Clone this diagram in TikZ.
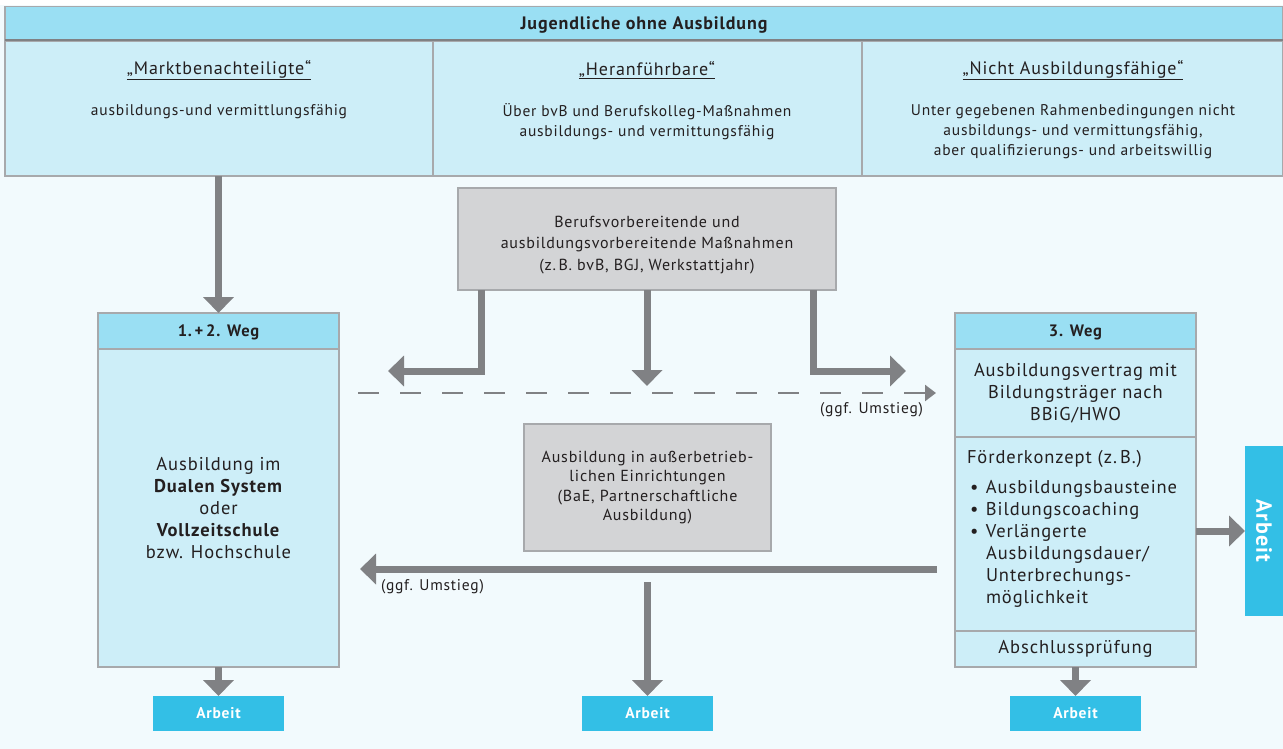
\documentclass[tikz,border=0pt]{standalone}
\usepackage{fontspec}
\setmainfont[LetterSpace=5]{PT Sans}
\usetikzlibrary{arrows.meta,positioning}

\definecolor{hellblau}{HTML}{CDEEF8}
\definecolor{kopfblau}{HTML}{9ADFF3}
\definecolor{grund}{HTML}{F2FAFD}
\definecolor{arbeitblau}{HTML}{33BFE6}
\definecolor{kastengrau}{HTML}{D3D4D6}
\definecolor{randgrau}{HTML}{A7A9AC}
\definecolor{pfeilgrau}{HTML}{808184}
\definecolor{schrift}{HTML}{231F20}

\begin{document}
\begin{tikzpicture}[x=1pt,y=-1pt,line join=miter,
  every node/.style={inner sep=0pt,outer sep=0pt,text=schrift},
  feld/.style={draw=randgrau,line width=1.2pt,fill=hellblau},
  kopf/.style={draw=randgrau,line width=1.2pt,fill=kopfblau,text depth=0pt,font=\fontsize{16.5}{20}\selectfont\bfseries},
  grau/.style={draw=randgrau,line width=1.2pt,fill=kastengrau},
  arbeit/.style={fill=arbeitblau,text=white,font=\fontsize{15.5}{16}\selectfont\bfseries},
  pfeil/.style={draw=pfeilgrau,line width=7pt,-{Triangle[width=30pt,length=16pt]}},
  titel/.style={font=\fontsize{18}{20}\selectfont},
  klein/.style={font=\fontsize{15.5}{20}\selectfont,align=center},
  gross/.style={font=\fontsize{18.5}{22}\selectfont,align=center}]
\useasboundingbox (0,0) rectangle (1283,749);
\fill[white] (0,0) rectangle (1283,749);
\fill[grund] (0,5) rectangle (1283,749);

% Kopfzeile und drei Gruppen
\node[kopf,font=\fontsize{18}{20}\selectfont\bfseries,minimum width=1278pt,minimum height=34pt] (jugend) at (644,23.5) {Jugendliche ohne Ausbildung};
\node[feld,minimum width=428pt,minimum height=135pt] (markt) at (219,108.5) {};
\node[feld,minimum width=429pt,minimum height=135pt] (heran) at (647.5,108.5) {};
\node[feld,minimum width=421pt,minimum height=135pt] (nicht) at (1072.5,108.5) {};
\draw[pfeilgrau,line width=2pt] (jugend.south west) -- (jugend.south east);
\node[titel] (marktT) at (219,70) {\underline{„Marktbenachteiligte“}};
\node[titel] (heranT) at (647,70) {\underline{„Heranführbare“}};
\node[titel] (nichtT) at (1073,70) {\underline{„Nicht Ausbildungsfähige“}};
\node[klein] (marktB) at (219,112) {ausbildungs-und vermittlungsfähig};
\node[klein] (heranB) at (647,122) {Über bvB und Berufskolleg-Maßnahmen\\ausbildungs- und vermittungsfähig};
\node[klein] (nichtB) at (1073,132) {Unter gegebenen Rahmenbedingungen nicht\\ausbildungs- und vermittungsfähig,\\aber qualifizierungs- und arbeitswillig};

% Massnahmen
\node[grau,minimum width=378pt,minimum height=102pt] (bvb) at (647,239) {};
\node[klein,font=\fontsize{16}{21.5}\selectfont] (bvbt) at (647,245)
  {Berufsvorbereitende und\\ausbildungsvorbereitende Maßnahmen\\(z.\,B. bvB, BGJ, Werkstattjahr)};
\node[grau,klein,font=\fontsize{16}{19.5}\selectfont,minimum width=247pt,minimum height=127pt] (bae) at (647.5,487.5)
  {Ausbildung in außerbetrieb-\\lichen Einrichtungen\\(BaE, Partnerschaftliche\\Ausbildung)};

% 1. + 2. Weg
\node[kopf,minimum width=241pt,minimum height=36pt] (weg12k) at (218.5,331) {1.\,+\,2. Weg};
\node[feld,gross,minimum width=241pt,minimum height=318pt,below=0pt of weg12k] (weg12b)
  {Ausbildung im\\\textbf{Dualen System}\\oder\\\textbf{Vollzeitschule}\\bzw. Hochschule};

% 3. Weg
\node[kopf,minimum width=241pt,minimum height=36pt] (weg3k) at (1075.5,331) {3. Weg};
\node[feld,gross,minimum width=241pt,minimum height=88pt,below=0pt of weg3k] (vertrag)
  {Ausbildungsvertrag mit\\Bildungsträger nach\\BBiG/HWO};
\node[feld,minimum width=241pt,minimum height=194pt,below=0pt of vertrag] (foerder) {};
\node[gross,align=left,anchor=north west] (foerdert) at ([xshift=12pt,yshift=-13pt]foerder.north west)
  {Förderkonzept (z.\,B.)\\[8pt]
   \makebox[19pt][l]{\hspace*{3pt}\textbullet}Ausbildungsbausteine\\
   \makebox[19pt][l]{\hspace*{3pt}\textbullet}Bildungscoaching\\
   \makebox[19pt][l]{\hspace*{3pt}\textbullet}Verlängerte\\
   \hspace*{19pt}Ausbildungsdauer/\\
   \hspace*{19pt}Unterbrechungs-\\
   \hspace*{19pt}möglichkeit};
\node[feld,font=\fontsize{18.5}{22}\selectfont,minimum width=241pt,minimum height=36pt,below=0pt of foerder] (abschluss) {Abschlussprüfung};

% Arbeit
\node[arbeit,minimum width=131pt,minimum height=35pt] (arbeit1) at (218.5,713.5) {Arbeit};
\node[arbeit,minimum width=131pt,minimum height=35pt] (arbeit2) at (647.5,713.5) {Arbeit};
\node[arbeit,minimum width=131pt,minimum height=35pt] (arbeit3) at (1075.5,713.5) {Arbeit};
\node[arbeit,font=\fontsize{22}{22}\selectfont\bfseries,rotate=-90,minimum width=170pt,minimum height=38pt] (arbeit4) at (1264,531) {Arbeit};

% Pfeile
\coordinate (links) at (388,371);
\coordinate (mitte) at (647,386);
\coordinate (rechts) at (906,371);
\coordinate (dstart) at (358,393);
\coordinate (dziel) at (936,393);
\coordinate (ustart) at (937,569);
\coordinate (uziel) at (360,569);
\coordinate (bstart) at (647.5,582);
\draw[pfeil] (markt.south -| weg12k.north) -- (weg12k.north);
\draw[pfeil] ([xshift=-166pt]bvb.south) |- (links);
\draw[pfeil] (bvb.south) -- (mitte);
\draw[pfeil] ([xshift=166pt]bvb.south) |- (rechts);
\draw[pfeilgrau,line width=2.5pt,dash pattern=on 21pt off 21pt,-{Triangle[width=16pt,length=11pt]}] (dstart) -- (dziel);
\node[klein,anchor=north east] (umstieg1) at (923,402) {(ggf. Umstieg)};
\draw[pfeil] (ustart) -- (uziel);
\node[klein,anchor=north west] (umstieg2) at (381,579) {(ggf. Umstieg)};
\draw[pfeil] (bstart) -- (arbeit2.north);
\draw[pfeil] (weg12b.south) -- (arbeit1.north);
\draw[pfeil] (abschluss.south) -- (arbeit3.north);
\draw[pfeil] (foerder.east |- arbeit4.south) -- (arbeit4.south);
\end{tikzpicture}
\end{document}
